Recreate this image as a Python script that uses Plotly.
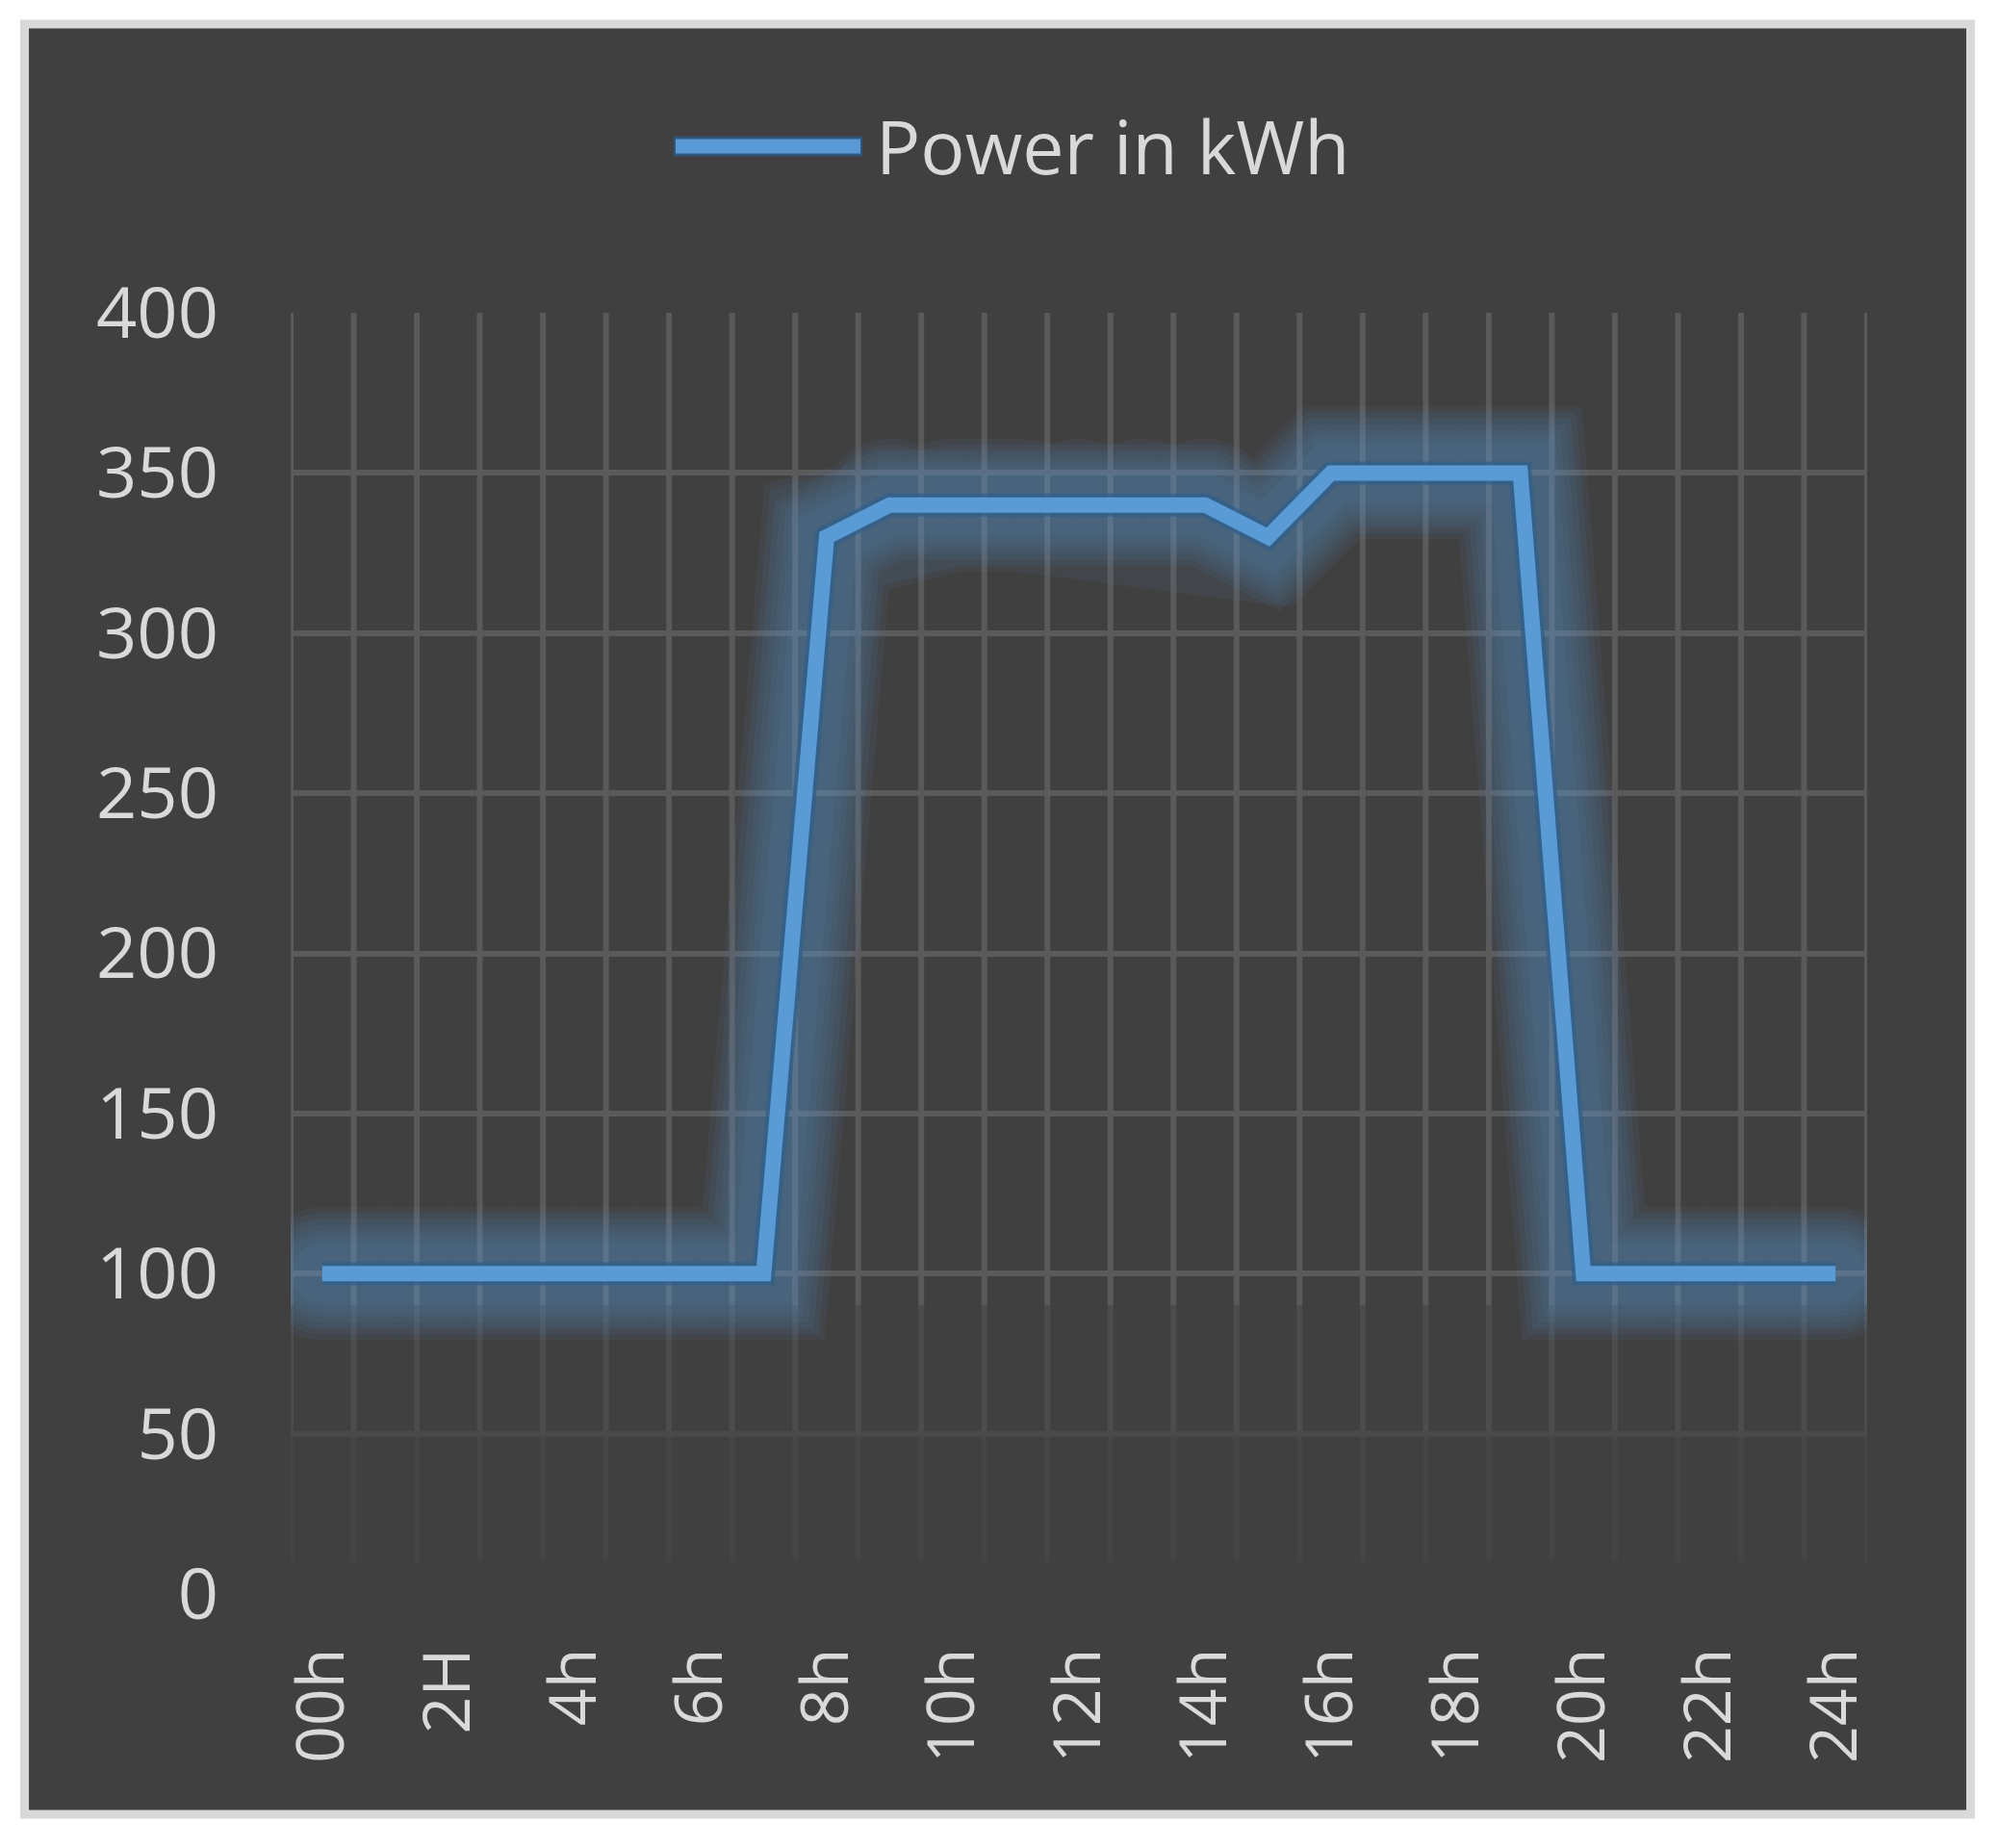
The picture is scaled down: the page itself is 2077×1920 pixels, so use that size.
import plotly.graph_objects as go

# --------------------
# Data
# --------------------
hours = [0, 1, 2, 3, 4, 5, 6, 7, 8, 9, 10, 11, 12, 13, 14, 15, 16, 17, 18, 19, 20, 21, 22, 23, 24]
power_kwh = [100, 100, 100, 100, 100, 100, 100, 100, 330, 340, 340, 340, 340, 340, 340, 330, 350, 350, 350, 350,
             100, 100, 100, 100, 100]
label_hours = [0, 2, 4, 6, 8, 10, 12, 14, 16, 18, 20, 22, 24]
tick_labels = ["00h", "2H", "4h", "6h", "8h", "10h", "12h", "14h", "16h", "18h", "20h", "22h", "24h"]
y_ticks = [0, 50, 100, 150, 200, 250, 300, 350, 400]
series_name = "Power in kWh"

# --------------------
# Page geometry (page pixels; the html body adds an 8px margin)
# --------------------
O = 8
W, H = 2077 - O, 1920 - O
L, T = 302 - O, 325 - O
R, B = W - (1940 - O), H - (1656 - O)
PW, PH = W - L - R, H - T - B


def px(x):
    return (x - O - L) / PW


def py(y):
    return (H - B - (y - O)) / PH


BLUE = "#5b9bd5"
BG = "#404040"
GRID = "#5a5a5a"
TXT = "#d9d9d9"
FONT = "Open Sans"

fig = go.Figure()

# soft glow under the line (round markers give round joins / caps)
for w in [138, 126, 114, 102, 90, 78, 64]:
    fig.add_trace(go.Scatter(x=hours, y=power_kwh, mode="lines+markers", showlegend=False, hoverinfo="skip",
                             line=dict(color=BLUE, width=w),
                             marker=dict(color=BLUE, size=w, line=dict(width=0)),
                             opacity=0.07))
# darker rim right next to the line
fig.add_trace(go.Scatter(x=hours, y=power_kwh, mode="lines", showlegend=False, hoverinfo="skip",
                         line=dict(color="#2e5f8e", width=24), opacity=0.7))

fig.add_trace(go.Scatter(x=hours, y=power_kwh, mode="lines", name=series_name, showlegend=False,
                         line=dict(color=BLUE, width=16)))

shapes = []
# dark chart background with grey frame
shapes.append(dict(type="rect", xref="paper", yref="paper", layer="below",
                   x0=px(25.5), x1=px(2047.5), y0=py(25), y1=py(1885),
                   fillcolor=BG, line=dict(color="#d9d9d9", width=9)))

# vertical gridlines at category boundaries (fading towards the bottom)
bounds = [h - 0.5 for h in hours] + [hours[-1] + 0.5]
for b in bounds:
    shapes.append(dict(type="line", xref="x", yref="y", layer="below", x0=b, x1=b, y0=90, y1=400,
                       line=dict(color=GRID, width=6)))
    shapes.append(dict(type="line", xref="x", yref="y", layer="below", x0=b, x1=b, y0=50, y1=90,
                       line=dict(color="#4c4c4c", width=6)))
    shapes.append(dict(type="line", xref="x", yref="y", layer="below", x0=b, x1=b, y0=10, y1=50,
                       line=dict(color="#454545", width=6)))
# faint 50 line
shapes.append(dict(type="line", xref="x", yref="y", layer="below", x0=bounds[0], x1=bounds[-1], y0=50, y1=50,
                   line=dict(color="#4a4a4a", width=6)))

# legend (drawn by hand so the key line is as long as the original)
shapes.append(dict(type="line", xref="paper", yref="paper", x0=px(700), x1=px(896), y0=py(152), y1=py(152),
                   line=dict(color="#2f5577", width=21)))
shapes.append(dict(type="line", xref="paper", yref="paper", x0=px(702), x1=px(894), y0=py(152), y1=py(152),
                   line=dict(color=BLUE, width=15)))

fig.update_layout(
    width=W, height=H,
    margin=dict(l=L, r=R, t=T, b=B),
    paper_bgcolor="white",
    plot_bgcolor=BG,
    font=dict(family=FONT, color=TXT),
    showlegend=False,
    shapes=shapes,
    annotations=[dict(text=series_name, xref="paper", yref="paper", x=px(908), y=py(151),
                      xanchor="left", yanchor="middle", showarrow=False,
                      font=dict(family=FONT, size=77, color=TXT))],
    xaxis=dict(
        range=[hours[0] - 0.5, hours[-1] + 0.5],
        tickvals=label_hours, ticktext=tick_labels, tickangle=-90,
        tickfont=dict(size=68, color=TXT), ticklabelstandoff=42,
        showgrid=False, zeroline=False, showline=False, ticks="",
    ),
    yaxis=dict(
        range=[0, 400],
        tickvals=y_ticks, tickfont=dict(size=74, color=TXT), ticklabelstandoff=74,
        showgrid=False, zeroline=False, showline=False, ticks="",
        minor=dict(tickvals=y_ticks[2:], showgrid=True, gridcolor=GRID, gridwidth=6, ticks=""),
    ),
)

fig.write_html("out.html")
